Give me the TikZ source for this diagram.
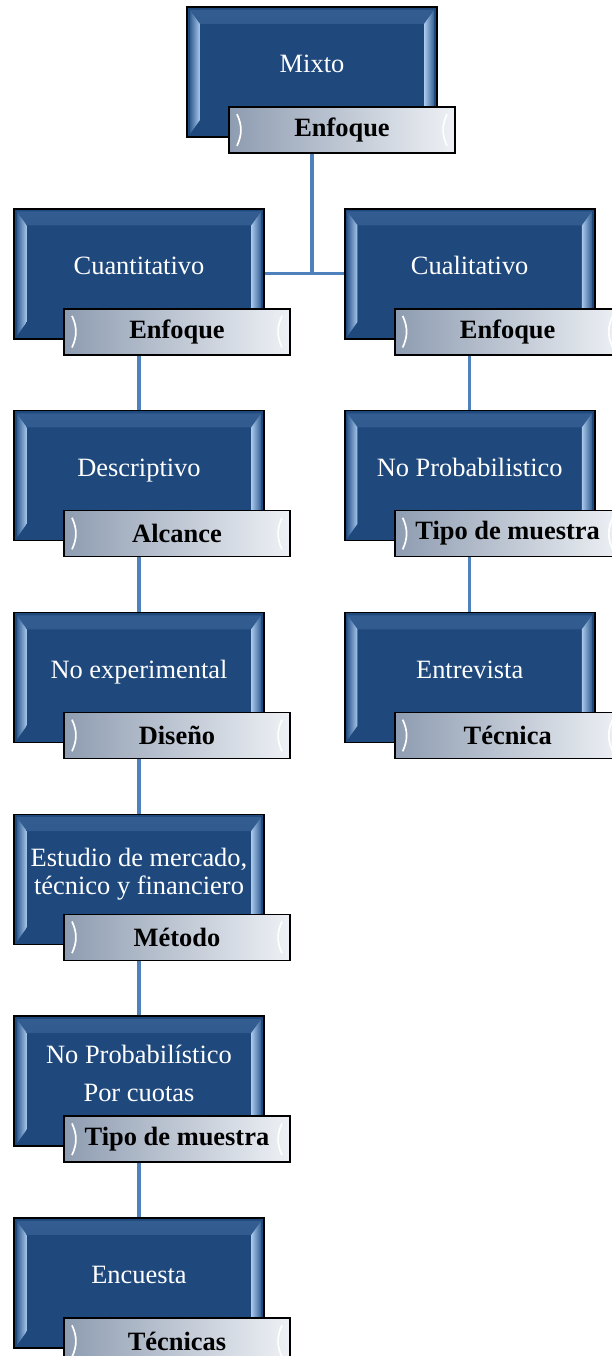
\documentclass[tikz,border=0pt]{standalone}
\usepackage{fontspec}
\setmainfont{Liberation Serif}
\usepackage{tikz}
\usetikzlibrary{positioning,calc,shadings}
\definecolor{boxblue}{HTML}{1F497D}
\definecolor{bevlite}{HTML}{A9C9EC}
\definecolor{bevdark}{HTML}{345E92}
\definecolor{taglft}{HTML}{8E9CB1}
\definecolor{tagrgt}{HTML}{EEF1F5}
\definecolor{linkblue}{HTML}{4F81BD}
\tikzset{
  bnw/.style={shift={(0.07,-0.07)}},
  bnw2/.style={shift={(0.32,-0.42)}},
  bsw/.style={shift={(0.07,0.07)}},
  bsw2/.style={shift={(0.32,0.42)}},
  bne/.style={shift={(-0.07,-0.07)}},
  bne2/.style={shift={(-0.32,-0.42)}},
  bse/.style={shift={(-0.07,0.07)}},
  bse2/.style={shift={(-0.32,0.42)}},
  tnw/.style={shift={(0.2,-0.18)}},
  tsw/.style={shift={(0.2,0.18)}},
  tne/.style={shift={(-0.2,-0.18)}},
  tse/.style={shift={(-0.2,0.18)}},
  tg/.style={shift={(1.25,-2.5)}},
  box/.style={
    rectangle,
    draw=black,
    line width=1.2pt,
    fill=boxblue,
    text=white,
    align=center,
    text depth=0.4cm,
    minimum width=6.25cm,
    minimum height=3.25cm,
    font=\fontsize{18.8}{20}\selectfont,
    path picture={
      \fill[top color=bevdark,bottom color=boxblue]
        ([bnw]path picture bounding box.north west) -- ([bne]path picture bounding box.north east)
        -- ([bne2]path picture bounding box.north east) -- ([bnw2]path picture bounding box.north west) -- cycle;
      \fill[left color=bevdark,right color=bevlite]
        ([bnw]path picture bounding box.north west) -- ([bnw2]path picture bounding box.north west)
        -- ([bsw2]path picture bounding box.south west) -- ([bsw]path picture bounding box.south west) -- cycle;
      \fill[left color=bevlite,right color=bevdark]
        ([bne2]path picture bounding box.north east) -- ([bne]path picture bounding box.north east)
        -- ([bse]path picture bounding box.south east) -- ([bse2]path picture bounding box.south east) -- cycle;
    }
  },
  tag/.style={
    rectangle,
    draw=black,
    line width=1.2pt,
    left color=taglft,
    right color=tagrgt,
    anchor=north west,
    minimum width=5.65cm,
    minimum height=1.15cm,
    font=\bfseries\fontsize{18.8}{20}\selectfont,
    path picture={
      \draw[white,line width=1.2pt] ([tnw]path picture bounding box.north west)
        to[bend left=25] ([tsw]path picture bounding box.south west);
      \draw[white,line width=1.2pt] ([tne]path picture bounding box.north east)
        to[bend right=25] ([tse]path picture bounding box.south east);
    }
  },
  link/.style={draw=linkblue,line width=2.2pt}
}

\begin{document}
\begin{tikzpicture}
  \useasboundingbox (-7.8,1.8) rectangle (7.475,-32.1);

  \node [box] (mixto) {Mixto};
  \node [tag] (tmixto) at ([shift={(1.05,-2.5)}]mixto.north west) {Enfoque};

  \node [box,below=1.75cm of mixto,xshift=-4.325cm] (cuanti) {Cuantitativo};
  \node [tag] (tcuanti) at ([tg]cuanti.north west) {Enfoque};
  \node [box,right=1.975cm of cuanti] (cuali) {Cualitativo};
  \node [tag] (tcuali) at ([tg]cuali.north west) {Enfoque};

  \node [box,below=1.755cm of cuanti] (desc) {Descriptivo};
  \node [tag] (tdesc) at ([tg]desc.north west) {Alcance};
  \node [box,below=1.755cm of cuali] (noprob) {No Probabilistico};
  \node [tag] (tnoprob) at ([tg]noprob.north west) {Tipo de muestra};

  \node [box,below=1.755cm of desc] (noexp) {No experimental};
  \node [tag] (tnoexp) at ([tg]noexp.north west) {Diseño};
  \node [box,below=1.755cm of noprob] (entrev) {Entrevista};
  \node [tag] (tentrev) at ([tg]entrev.north west) {Técnica};

  \node [box,below=1.755cm of noexp] (estudio) {Estudio de mercado,\\técnico y financiero};
  \node [tag] (testudio) at ([tg]estudio.north west) {Método};

  \node [box,below=1.755cm of estudio] (cuotas) {No Probabilístico\\[7pt]Por cuotas};
  \node [tag] (tcuotas) at ([tg]cuotas.north west) {Tipo de muestra};

  \node [box,below=1.755cm of cuotas] (encuesta) {Encuesta};
  \node [tag] (tencuesta) at ([tg]encuesta.north west) {Técnicas};

  % links
  \draw[link] (tmixto.south -| mixto) -- (mixto |- cuanti);
  \draw[link] (cuanti) -- (cuali);
  \draw[link] (tcuanti.south -| cuanti) -- (desc);
  \draw[link] (tdesc.south -| desc) -- (noexp);
  \draw[link] (tnoexp.south -| noexp) -- (estudio);
  \draw[link] (testudio.south -| estudio) -- (cuotas);
  \draw[link] (tcuotas.south -| cuotas) -- (encuesta);
  \draw[link] (tcuali.south -| cuali) -- (noprob);
  \draw[link] (tnoprob.south -| noprob) -- (entrev);
\end{tikzpicture}
\end{document}
